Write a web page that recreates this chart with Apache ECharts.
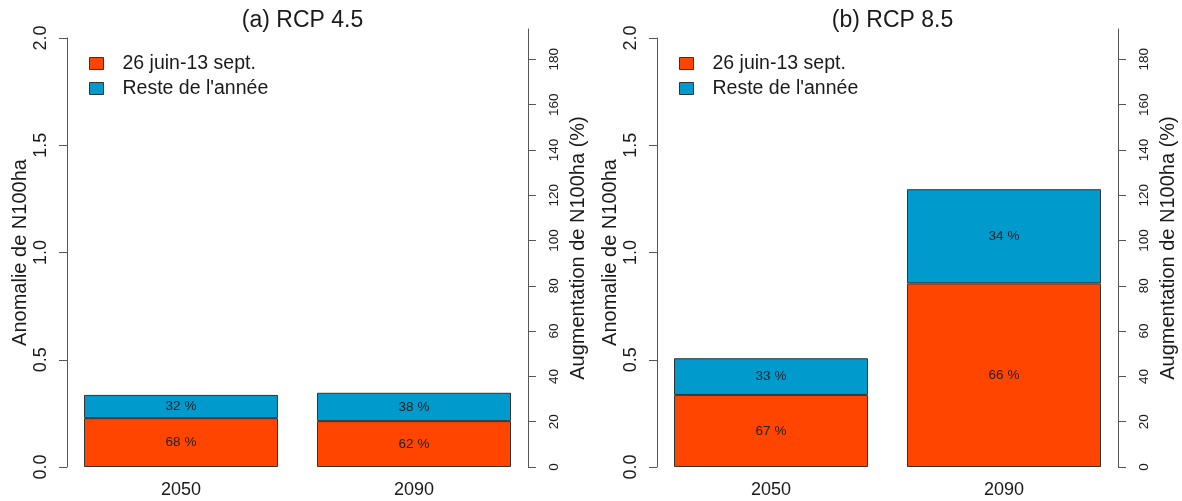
<!DOCTYPE html>
<html>
<head>
<meta charset="utf-8">
<script src="https://cdn.jsdelivr.net/npm/echarts@6/dist/echarts.min.js"></script>
<style>
html,body{margin:0;padding:0;background:#fff;}
#chart{width:1182px;height:501px;}
</style>
</head>
<body>
<div id="chart"></div>
<script>
// ---- data ----
const years = ['2050', '2090'];
const seriesNames = ['26 juin-13 sept.', "Reste de l'année"];
const panelTitles = ['(a) RCP 4.5', '(b) RCP 8.5'];
const rcp45Juin = [0.228, 0.214];
const rcp45Reste = [0.108, 0.132];
const rcp85Juin = [0.336, 0.856];
const rcp85Reste = [0.171, 0.439];
const rcp45PctJuin = [68, 62];
const rcp45PctReste = [32, 38];
const rcp85PctJuin = [67, 66];
const rcp85PctReste = [33, 34];
const rightTicks = [0, 20, 40, 60, 80, 100, 120, 140, 160, 180];
const leftAxisName = 'Anomalie de N100ha';
const rightAxisName = 'Augmentation de N100ha (%)';

const FONT = "'Liberation Sans', Arial, sans-serif";
const ORANGE = '#FF4500';
const BLUE = '#009ACD';
const AXIS = '#555';
const TXT = '#1a1a1a';

const chart = echarts.init(document.getElementById('chart'), null, {renderer: 'canvas'});

const panelX = [0, 590];
const grids = [], xAxes = [], yAxes = [], series = [];
const panelJuin = [rcp45Juin, rcp85Juin];
const panelReste = [rcp45Reste, rcp85Reste];
const panelPctJuin = [rcp45PctJuin, rcp85PctJuin];
const panelPctReste = [rcp45PctReste, rcp85PctReste];

panelX.forEach((dx, p) => {
  // bars grid (with left axis)
  grids.push({left: 64.5 + dx, width: 466, top: 38, height: 429, containLabel: false});
  // right-axis grid
  grids.push({left: 428 + dx, width: 100, top: 29, height: 438, containLabel: false});
  const gBar = p * 2, gRight = p * 2 + 1;
  xAxes.push({
    type: 'category', gridIndex: gBar, data: years,
    axisLine: {show: false}, axisTick: {show: false},
    axisLabel: {fontSize: 18, color: TXT, margin: 14, fontFamily: FONT}
  });
  xAxes.push({type: 'value', gridIndex: gRight, min: 0, max: 1, show: false});
  yAxes.push({
    type: 'value', gridIndex: gBar, min: 0, max: 2, interval: 0.5, offset: -2.5,
    position: 'left',
    name: leftAxisName, nameLocation: 'middle', nameRotate: 90, nameGap: 37,
    nameTextStyle: {fontSize: 20, color: TXT, fontFamily: FONT},
    axisLine: {show: true, onZero: false, lineStyle: {color: AXIS, width: 1}},
    axisTick: {show: true, length: 8, lineStyle: {color: AXIS}},
    splitLine: {show: false},
    axisLabel: {rotate: 90, fontSize: 18, color: TXT, margin: 17, fontFamily: FONT,
      formatter: v => v.toFixed(1)}
  });
  yAxes.push({
    type: 'value', gridIndex: gRight, min: 0, max: 193.4, position: 'right',
    name: rightAxisName, nameLocation: 'middle', nameRotate: 90, nameGap: 40,
    nameTextStyle: {fontSize: 20, color: TXT, fontFamily: FONT},
    axisLine: {show: true, onZero: false, lineStyle: {color: AXIS, width: 1}},
    axisTick: {show: true, length: 8, lineStyle: {color: AXIS}, customValues: rightTicks},
    splitLine: {show: false},
    axisLabel: {rotate: 90, fontSize: 13.5, color: TXT, margin: 19, fontFamily: FONT,
      customValues: rightTicks}
  });
  const mk = (name, data, pct, color) => ({
    type: 'bar', name: name, xAxisIndex: gBar, yAxisIndex: gBar, stack: 'p' + p,
    data: data, barWidth: 194,
    itemStyle: {color: color, borderColor: '#333', borderWidth: 1},
    label: {show: true, position: 'inside', color: '#222', fontSize: 13.5, fontFamily: FONT,
      formatter: prm => pct[prm.dataIndex] + ' %'},
    emphasis: {disabled: true}
  });
  series.push(mk(seriesNames[0], panelJuin[p], panelPctJuin[p], ORANGE));
  series.push(mk(seriesNames[1], panelReste[p], panelPctReste[p], BLUE));
});

const option = {
  animation: false,
  backgroundColor: '#fff',
  textStyle: {fontFamily: FONT},
  title: panelTitles.map((t, i) => ({
    text: t, left: 297.5 + panelX[i], top: 4, textAlign: 'center',
    textStyle: {fontSize: 23, fontWeight: 'normal', color: TXT, fontFamily: FONT}
  })),
  legend: panelX.map(dx => ({
    data: seriesNames, orient: 'vertical', left: 84 + dx, top: 48.5,
    itemWidth: 14, itemHeight: 12, itemGap: 5,
    icon: 'rect',
    itemStyle: {borderColor: '#333', borderWidth: 1},
    textStyle: {fontSize: 19.5, color: TXT, fontFamily: FONT, lineHeight: 20, padding: [0, 0, 0, 14]},
    selectedMode: false
  })),
  grid: grids,
  xAxis: xAxes,
  yAxis: yAxes,
  series: series
};
chart.setOption(option);
</script>
</body>
</html>
